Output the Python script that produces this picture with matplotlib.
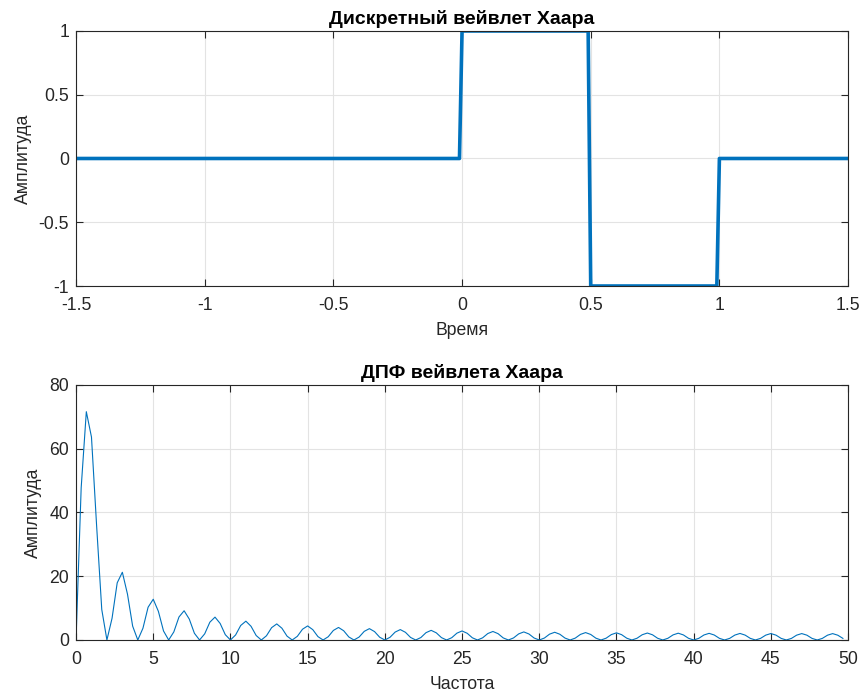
import numpy as np
import matplotlib
matplotlib.use("Agg")
import matplotlib.pyplot as plt

plt.rcParams["font.family"] = ["Liberation Sans", "DejaVu Sans"]
plt.rcParams["axes.unicode_minus"] = False

# Haar wavelet sampled at 0.01 s steps (only the break points are listed)
time = [-1.5, -0.01, 0.0, 0.49, 0.5, 0.99, 1.0, 1.5]
wavelet = [0, 0, 1, 1, -1, -1, 0, 0]

# DFT magnitude, bins every 1/3 Hz, one row per 2 Hz lobe
n_bins = 150
dft_mag = [
    0, 47.75, 71.62, 63.67, 35.82, 9.55,
    0, 6.83, 17.93, 21.25, 14.35, 4.35,
    0, 3.68, 10.27, 12.78, 8.99, 2.82,
    0, 2.53, 7.21, 9.17, 6.57, 2.10,
    0, 1.93, 5.58, 7.17, 5.19, 1.67,
    0, 1.57, 4.56, 5.90, 4.30, 1.40,
    0, 1.32, 3.87, 5.04, 3.69, 1.20,
    0, 1.15, 3.37, 4.41, 3.24, 1.06,
    0, 1.02, 3.00, 3.93, 2.90, 0.95,
    0, 0.92, 2.71, 3.56, 2.63, 0.86,
    0, 0.84, 2.48, 3.26, 2.41, 0.79,
    0, 0.77, 2.30, 3.02, 2.24, 0.74,
    0, 0.72, 2.14, 2.83, 2.10, 0.69,
    0, 0.68, 2.02, 2.67, 1.98, 0.65,
    0, 0.64, 1.91, 2.53, 1.88, 0.62,
    0, 0.61, 1.83, 2.42, 1.80, 0.60,
    0, 0.59, 1.75, 2.32, 1.73, 0.57,
    0, 0.57, 1.69, 2.24, 1.67, 0.56,
    0, 0.55, 1.64, 2.18, 1.63, 0.54,
    0, 0.54, 1.60, 2.13, 1.59, 0.53,
    0, 0.52, 1.57, 2.08, 1.56, 0.52,
    0, 0.51, 1.54, 2.05, 1.53, 0.51,
    0, 0.51, 1.52, 2.02, 1.52, 0.50,
    0, 0.50, 1.51, 2.01, 1.51, 0.50,
    0, 0.50, 1.50, 2.00, 1.50, 0.50,
]
freq = np.arange(n_bins) / 3.0

line_color = "#0072BD"
axis_color = "#262626"
fs = 12.7
title_fs = 14


def style_axes(ax):
    ax.grid(True, color="#e3e3e3", linewidth=0.8)
    ax.set_axisbelow(True)
    for spine in ax.spines.values():
        spine.set_color(axis_color)
        spine.set_linewidth(0.8)
    ax.tick_params(direction="in", top=True, right=True, length=5,
                   width=0.8, color=axis_color, labelsize=fs,
                   labelcolor=axis_color)
    ax.tick_params(axis="x", pad=8)
    ax.tick_params(axis="y", pad=5)


fig = plt.figure(figsize=(8.63, 6.93), dpi=100)

ax1 = fig.add_axes([0.0881, 0.5873, 0.8946, 0.368])
ax1.plot(time, wavelet, color=line_color, linewidth=2.6)
ax1.set_xlim(-1.5, 1.5)
ax1.set_ylim(-1, 1)
ax1.set_xticks([-1.5, -1, -0.5, 0, 0.5, 1, 1.5])
ax1.set_xticklabels(["-1.5", "-1", "-0.5", "0", "0.5", "1", "1.5"])
ax1.set_yticks([-1, -0.5, 0, 0.5, 1])
ax1.set_yticklabels(["-1", "-0.5", "0", "0.5", "1"])
ax1.set_title("Дискретный вейвлет Хаара", fontsize=title_fs, fontweight="bold", pad=5)
ax1.set_xlabel("Время", fontsize=fs, color=axis_color, labelpad=6)
ax1.set_ylabel("Амплитуда", fontsize=fs, color=axis_color, labelpad=5)
style_axes(ax1)

ax2 = fig.add_axes([0.0881, 0.0765, 0.8946, 0.368])
ax2.plot(freq, dft_mag, color=line_color, linewidth=0.8)
ax2.set_xlim(0, 50)
ax2.set_ylim(0, 80)
ax2.set_xticks(range(0, 51, 5))
ax2.set_yticks(range(0, 81, 20))
ax2.set_title("ДПФ вейвлета Хаара", fontsize=title_fs, fontweight="bold", pad=5)
ax2.set_xlabel("Частота", fontsize=fs, color=axis_color, labelpad=6)
ax2.set_ylabel("Амплитуда", fontsize=fs, color=axis_color, labelpad=5)
style_axes(ax2)

fig.savefig("out.png", dpi=100)
